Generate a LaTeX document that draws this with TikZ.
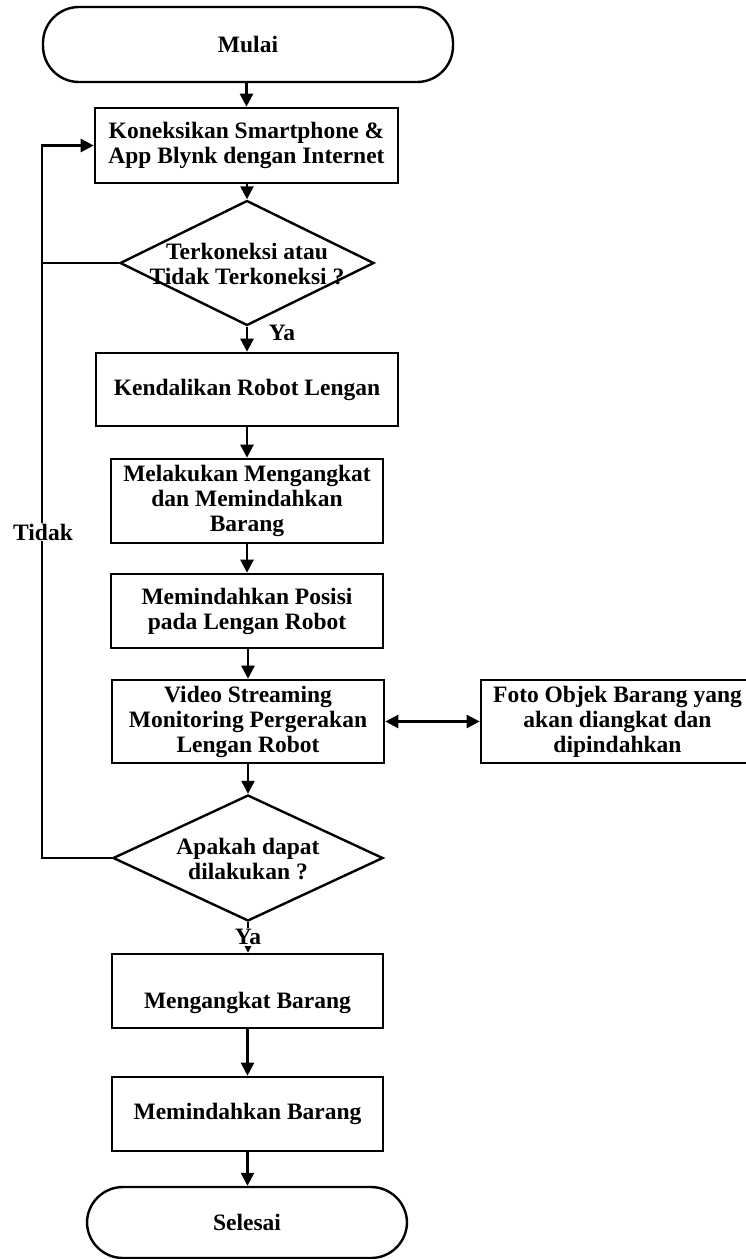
\documentclass[tikz,border=0pt]{standalone}
\usepackage{fontspec}
\setmainfont{Liberation Serif}
\usetikzlibrary{arrows.meta,shapes.geometric}
\begin{document}
\begin{tikzpicture}[x=1pt,y=-1pt,
  txt/.style={font=\fontsize{23.5}{25}\selectfont\bfseries, align=center, inner sep=0pt},
  box/.style={draw, line width=2.6pt, inner sep=0pt, align=center, font=\fontsize{23.5}{25}\selectfont\bfseries},
  term/.style={draw, line width=2.4pt, inner sep=0pt, rounded corners=36pt, font=\fontsize{23.5}{25}\selectfont\bfseries},
  dia/.style={draw, diamond, line width=2.4pt, inner sep=0pt},
  conn/.style={line width=2.4pt},
  arr/.style={line width=2.4pt, -{Triangle[length=13pt,width=13pt]}},
  lbl/.style={font=\fontsize{23.5}{25}\selectfont\bfseries, inner sep=1pt}]
\useasboundingbox (0,0) rectangle (745,1259);

\node[term, minimum width=410pt, minimum height=75pt] (mulai) at (248,44.5) {Mulai};
\node[box, minimum width=303pt, minimum height=75pt] (b1) at (246.5,145.5) {Koneksikan Smartphone \&\\App Blynk dengan Internet};
\node[dia, minimum width=254pt, minimum height=125pt] (d1) at (247,263) {};
\node[txt] (d1t) at (247,264) {Terkoneksi atau\\Tidak Terkoneksi ?};
\node[box, minimum width=302pt, minimum height=73pt] (b2) at (247,389.5) {Kendalikan Robot Lengan};
\node[box, minimum width=272pt, minimum height=84pt] (b3) at (247,501) {Melakukan Mengangkat\\dan Memindahkan\\Barang};
\node[box, minimum width=272pt, minimum height=74pt] (b4) at (247,611) {Memindahkan Posisi\\pada Lengan Robot};
\node[box, minimum width=272pt, minimum height=83pt] (b5) at (248,721.5) {Video Streaming\\Monitoring Pergerakan\\Lengan Robot};
\node[box, minimum width=273pt, minimum height=83pt] (foto) at (617.5,721.5) {Foto Objek Barang yang\\akan diangkat dan\\dipindahkan};
\node[dia, minimum width=270pt, minimum height=126pt] (d2) at (248,858) {};
\node[txt] (d2t) at (248,859) {Apakah dapat\\dilakukan ?};
\node[box, minimum width=271pt, minimum height=74pt] (b6) at (247.5,991) {};
\node[txt] (b6t) at (247.5,1003) {Mengangkat Barang};
\node[box, minimum width=271pt, minimum height=74pt] (b7) at (247.5,1114) {Memindahkan Barang};
\node[term, minimum width=320pt, minimum height=71pt] (selesai) at (247,1222.5) {Selesai};

\coordinate (lp) at (42,858);

\draw[arr] (mulai.south -| b1.north) -- (b1.north);
\draw[arr] (b1.south -| d1.north) -- (d1.north);
\draw[arr] (d1.south) -- (b2.north -| d1.south);
\draw[arr] (b2.south -| b3.north) -- (b3.north);
\draw[arr] (b3.south) -- (b4.north);
\draw[arr] (b4.south -| b5.north) -- (b5.north);
\draw[arr] (b5.south) -- (d2.north);
\draw[arr] (d2.south) -- (b6.north -| d2.south);
\draw[arr] (b6.south) -- (b7.south |- b7.north);
\draw[arr] (b7.south) -- (selesai.north -| b7.south);
\draw[line width=2.4pt, {Triangle[length=13pt,width=13pt]}-{Triangle[length=13pt,width=13pt]}] (b5.east) -- (foto.west);
\draw[conn] (d1.west) -- (d1.west -| lp);
\draw[arr] (d2.west) -- (lp) |- (b1.west);

\node[lbl] (ya1) at (282,333) {Ya};
\node[lbl, fill=white] (ya2) at (248,937) {Ya};
\node[lbl, fill=white] (tidak) at (43,532) {Tidak};
\end{tikzpicture}
\end{document}
